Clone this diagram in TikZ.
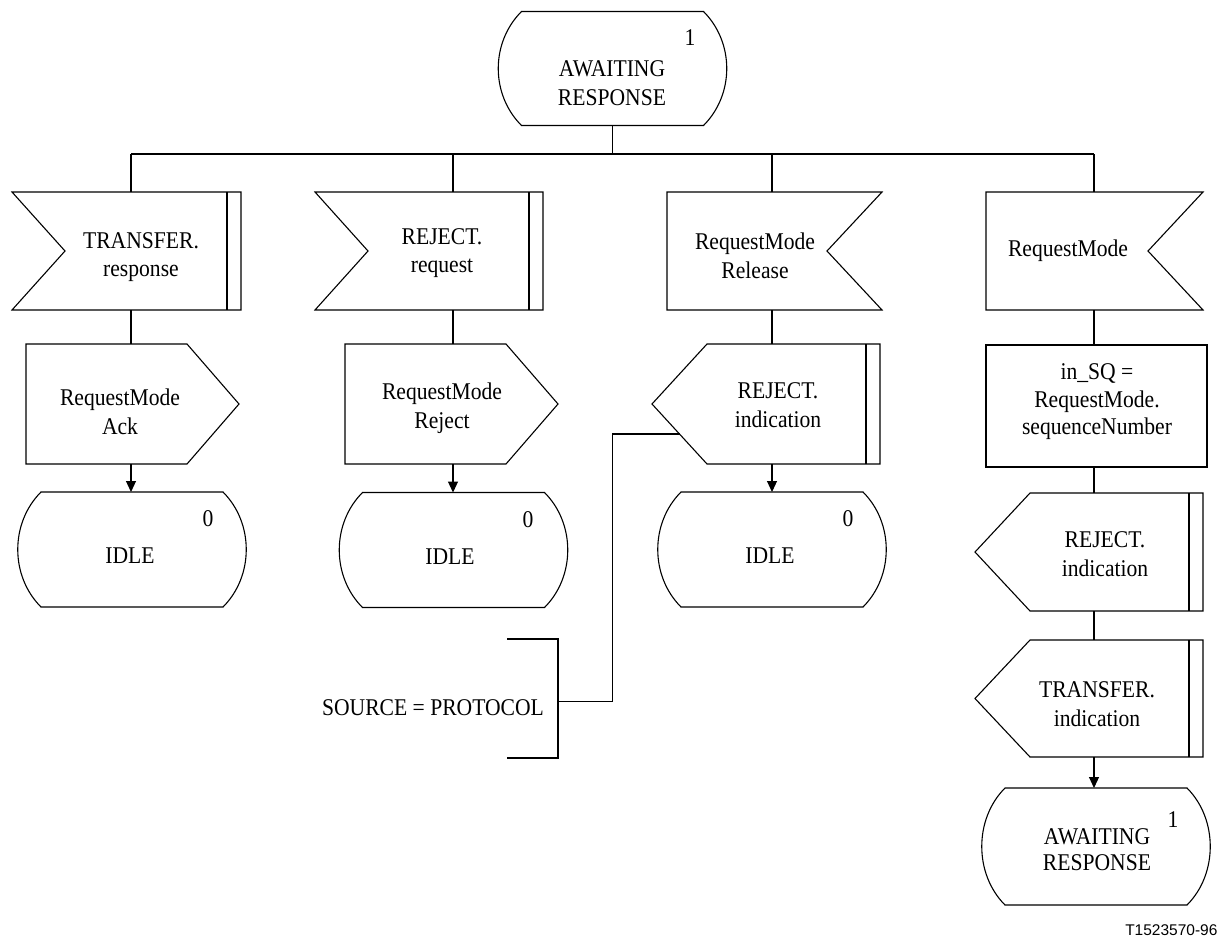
\documentclass[tikz,border=0pt]{standalone}
\usepackage{fontspec}
\setmainfont{Liberation Serif}[FakeStretch=0.9]
\newfontfamily\labelfont{Liberation Sans}
\usetikzlibrary{calc,arrows.meta}

% SDL state: straight top/bottom, bulging sides
\newcommand\sdlState[1]{\draw (#1.north west) -- (#1.north east)
  .. controls +(31,31) and +(31,-31) .. (#1.south east) -- (#1.south west)
  .. controls +(-31,-31) and +(-31,31) .. cycle;}
% input, notch on the left
\newcommand\sdlInL[1]{\draw (#1.north west) -- (#1.north east) -- (#1.south east)
  -- (#1.south west) -- ($(#1.west)+(53,0)$) -- cycle;}
% input, notch on the right
\newcommand\sdlInR[1]{\draw (#1.north west) -- (#1.north east) -- ($(#1.east)+(-55,0)$)
  -- (#1.south east) -- (#1.south west) -- cycle;}
% output, point on the right
\newcommand\sdlOutR[1]{\draw (#1.north west) -- ($(#1.north east)+(-52,0)$) -- (#1.east)
  -- ($(#1.south east)+(-52,0)$) -- (#1.south west) -- cycle;}
% output, point on the left
\newcommand\sdlOutL[1]{\draw ($(#1.north west)+(55,0)$) -- (#1.north east) -- (#1.south east)
  -- ($(#1.south west)+(55,0)$) -- (#1.west) -- cycle;}
% inner vertical line on the right
\newcommand\sdlDbl[1]{\draw ($(#1.north east)+(-14,0)$) -- ($(#1.south east)+(-14,0)$);}

\begin{document}
\begin{tikzpicture}[x=1pt,y=-1pt, line width=1.1pt,
  shp/.style={inner sep=0pt, outer sep=0pt, draw=none},
  txt/.style={align=center, inner sep=0pt, font=\fontsize{24}{28.5}\selectfont},
  num/.style={inner sep=0pt, font=\fontsize{24}{24}\selectfont},
  arr/.style={-{Triangle[length=11pt,width=10pt]}}]
\useasboundingbox (0,0) rectangle (1221,940);

% ---- top state
\node[shp, minimum width=182, minimum height=114] (s0) at (612.5,68.5) {};
\sdlState{s0}
\node[txt] (s0t) at (612,83) {AWAITING\\RESPONSE};
\node[num] (s0n) at (690,38) {1};

% ---- bus
\coordinate (bus) at (612.5,154);
\coordinate (c1) at (131,154);
\coordinate (c2) at (453,154);
\coordinate (c3) at (772,154);
\coordinate (c4) at (1094,154);
\draw (s0.south) -- (bus);
\draw (c1) -- (c4);

% ---- inputs
\node[shp, minimum width=229, minimum height=118] (in1) at (126.5,251) {};
\sdlInL{in1}\sdlDbl{in1}
\node[txt] (in1t) at (141,257) {TRANSFER.\\response};

\node[shp, minimum width=228, minimum height=118] (in2) at (429,251) {};
\sdlInL{in2}\sdlDbl{in2}
\node[txt] (in2t) at (442,253) {REJECT.\\request};

\node[shp, minimum width=215, minimum height=118] (in3) at (774.5,251) {};
\sdlInR{in3}
\node[txt] (in3t) at (755,256) {RequestMode\\Release};

\node[shp, minimum width=217, minimum height=118] (in4) at (1094.5,251) {};
\sdlInR{in4}
\node[txt] (in4t) at (1068,251) {RequestMode};

% ---- second row
\node[shp, minimum width=213, minimum height=120] (out1) at (132.5,404) {};
\sdlOutR{out1}
\node[txt] (out1t) at (120,412) {RequestMode\\Ack};

\node[shp, minimum width=213, minimum height=120] (out2) at (451.5,404) {};
\sdlOutR{out2}
\node[txt] (out2t) at (442,408) {RequestMode\\Reject};

\node[shp, minimum width=228, minimum height=120] (out3) at (766,404) {};
\sdlOutL{out3}\sdlDbl{out3}
\node[txt] (out3t) at (778,405) {REJECT.\\indication};

\node[shp, minimum width=221, minimum height=122, draw] (task) at (1096.5,406) {};
\node[txt, font=\fontsize{24}{27.5}\selectfont] (taskt) at (1097,402) {in\_SQ =\\RequestMode.\\sequenceNumber};

% ---- right column outputs
\node[shp, minimum width=228, minimum height=118] (out4) at (1089,552) {};
\sdlOutL{out4}\sdlDbl{out4}
\node[txt] (out4t) at (1105,554) {REJECT.\\indication};

\node[shp, minimum width=228, minimum height=117] (out5) at (1089,698.5) {};
\sdlOutL{out5}\sdlDbl{out5}
\node[txt] (out5t) at (1097,704) {TRANSFER.\\indication};

% ---- next states
\node[shp, minimum width=182, minimum height=115] (s1) at (132,549.5) {};
\sdlState{s1}
\node[txt] (s1t) at (130,556) {IDLE};
\node[num] (s1n) at (208,519) {0};

\node[shp, minimum width=182, minimum height=115] (s2) at (453.5,550) {};
\sdlState{s2}
\node[txt] (s2t) at (450,557) {IDLE};
\node[num] (s2n) at (528,520) {0};

\node[shp, minimum width=182, minimum height=115] (s3) at (772,549.5) {};
\sdlState{s3}
\node[txt] (s3t) at (770,556) {IDLE};
\node[num] (s3n) at (848,519) {0};

\node[shp, minimum width=182, minimum height=117] (s4) at (1096,846.5) {};
\sdlState{s4}
\node[txt, font=\fontsize{24}{26}\selectfont] (s4t) at (1097,850) {AWAITING\\RESPONSE};
\node[num] (s4n) at (1173,820) {1};

% ---- comment
\node[shp, minimum width=51, minimum height=119] (cmt) at (532.5,698.5) {};
\draw (cmt.north west) -- (cmt.north east) -- (cmt.south east) -- (cmt.south west);
\node[txt] (cmtt) at (433,708) {SOURCE = PROTOCOL};
\coordinate (ce) at ($(out3.west)!0.5!([xshift=55pt]out3.south west)$);
\draw ([yshift=-3pt]cmt.east) -| ($(ce)+(-67,0)$) -- (ce);

% ---- flow lines
\draw (c1) -- (c1 |- in1.north);
\draw (c1 |- in1.south) -- (c1 |- out1.north);
\draw[arr] (c1 |- out1.south) -- (c1 |- s1.north);

\draw (c2) -- (c2 |- in2.north);
\draw (c2 |- in2.south) -- (c2 |- out2.north);
\draw[arr] (c2 |- out2.south) -- (c2 |- s2.north);

\draw (c3) -- (c3 |- in3.north);
\draw (c3 |- in3.south) -- (c3 |- out3.north);
\draw[arr] (c3 |- out3.south) -- (c3 |- s3.north);

\draw (c4) -- (c4 |- in4.north);
\draw (c4 |- in4.south) -- (c4 |- task.north);
\draw (c4 |- task.south) -- (c4 |- out4.north);
\draw (c4 |- out4.south) -- (c4 |- out5.north);
\draw[arr] (c4 |- out5.south) -- (c4 |- s4.north);

% ---- figure label
\node[inner sep=0pt, anchor=east, font=\labelfont\fontsize{15.5}{15.5}\selectfont] (lbl) at (1218,930) {T1523570-96};
\end{tikzpicture}
\end{document}
